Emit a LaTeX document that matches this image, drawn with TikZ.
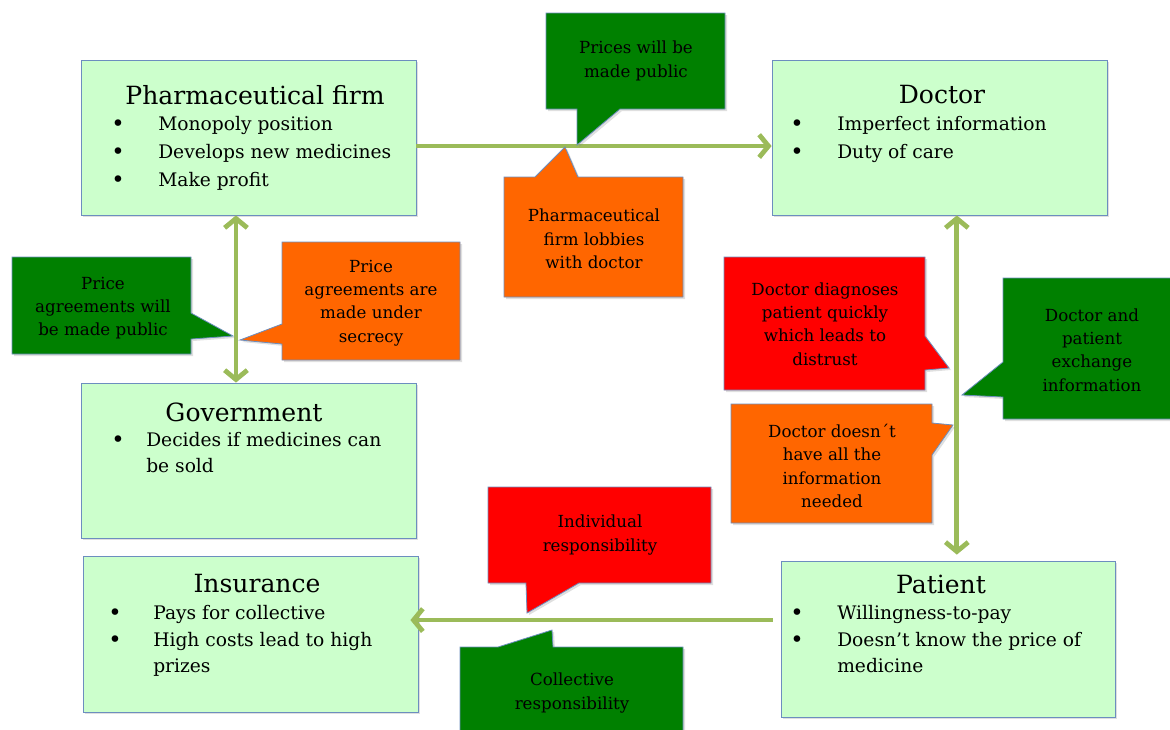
\documentclass[tikz,border=0pt]{standalone}
\usepackage{fontspec}
\setmainfont{DejaVu Serif}
\usepackage{tikz}
\usetikzlibrary{arrows.meta, fit, shadows}

\definecolor{boxfill}{RGB}{204,255,204}
\definecolor{boxline}{RGB}{108,142,191}
\definecolor{linkgreen}{RGB}{155,187,89}
\definecolor{callgreen}{RGB}{0,128,0}
\definecolor{callorange}{RGB}{255,102,0}
\definecolor{callred}{RGB}{255,0,0}

\tikzset{
  infobox/.style={draw=boxline, fill=boxfill, line width=0.6pt, inner sep=0pt,
    drop shadow={shadow xshift=1.5pt, shadow yshift=-1.5pt, opacity=0.25}},
  boxtitle/.style={font=\fontsize{18.8}{22}\selectfont, inner sep=0pt},
  boxitem/.style={font=\fontsize{14}{17}\selectfont, anchor=west, inner sep=0pt,
    text height=1.5ex, text depth=.25ex},
  dot/.style={font=\fontsize{17}{17}\selectfont, inner sep=0pt},
  balloon/.style={draw=boxline, line width=0.6pt,
    drop shadow={shadow xshift=1.5pt, shadow yshift=-1.5pt, opacity=0.25}},
  balltext/.style={font=\fontsize{12.5}{17.5}\selectfont, align=center, inner sep=0pt},
  link/.style={draw=linkgreen, line width=3.6pt,
    -{Straight Barb[length=7pt, width=17pt, line width=3.6pt]}},
  twolink/.style={link, {Straight Barb[length=7pt, width=17pt, line width=3.6pt]}-{Straight Barb[length=7pt, width=17pt, line width=3.6pt]}}
}

\begin{document}
\begin{tikzpicture}[x=0.75pt,y=0.75pt,yscale=-1,xscale=1]
\useasboundingbox (0,0) rectangle (1170,729);

% boxes
\node[infobox, fit={(81,60) (416,215)}] (pharma) {};
\node[infobox, fit={(772,60) (1107,215)}] (doctor) {};
\node[infobox, fit={(81,383) (416,538)}] (gov) {};
\node[infobox, fit={(83,556) (418,712)}] (insur) {};
\node[infobox, fit={(781,561) (1115,717)}] (patient) {};

% Pharmaceutical firm
\node[boxtitle] (pharmatitle) at (255,95) {Pharmaceutical firm};
\node[dot] at (118,126) {\textbullet};
\node[boxitem] (pharma1) at (158,126) {Monopoly position};
\node[dot] at (118,154) {\textbullet};
\node[boxitem] (pharma2) at (158,154) {Develops new medicines};
\node[dot] at (118,182) {\textbullet};
\node[boxitem] (pharma3) at (158,182) {Make profit};

% Doctor
\node[boxtitle] (doctortitle) at (942,95) {Doctor};
\node[dot] at (797,126) {\textbullet};
\node[boxitem] (doctor1) at (837,126) {Imperfect information};
\node[dot] at (797,154) {\textbullet};
\node[boxitem] (doctor2) at (837,154) {Duty of care};

% Government
\node[boxtitle] (govtitle) at (244,412) {Government};
\node[dot] at (118,442) {\textbullet};
\node[boxitem] (gov1) at (146,442) {Decides if medicines can};
\node[boxitem] (gov2) at (146,468) {be sold};

% Insurance
\node[boxtitle] (insurtitle) at (257,584) {Insurance};
\node[dot] at (115,615) {\textbullet};
\node[boxitem] (insur1) at (153,615) {Pays for collective};
\node[dot] at (115,642) {\textbullet};
\node[boxitem] (insur2) at (153,642) {High costs lead to high};
\node[boxitem] (insur3) at (153,668) {prizes};

% Patient
\node[boxtitle] (patienttitle) at (941,584) {Patient};
\node[dot] at (797,615) {\textbullet};
\node[boxitem] (patient1) at (837,615) {Willingness-to-pay};
\node[dot] at (797,642) {\textbullet};
\node[boxitem] (patient2) at (837,642) {Doesn’t know the price of};
\node[boxitem] (patient3) at (837,668) {medicine};

% connectors
\draw[link] ([yshift=6.4pt]pharma.east) -- ([yshift=6.4pt]doctor.west);
\draw[twolink] ([xshift=-9.4pt]pharma.south) -- ([xshift=-9.4pt]pharma.south |- gov.north);
\draw[twolink] ([xshift=13pt]doctor.south) -- ([xshift=13pt,yshift=-4.5pt]doctor.south |- patient.north);
\draw[link] ([xshift=-6pt,yshift=-14.2pt]patient.west) -- ([xshift=-6pt,yshift=-14.2pt]patient.west -| insur.east);

% balloons
\draw[balloon, fill=callgreen] (546,13) -- (725,13) -- (725,109) -- (620,109) -- (577,145) -- (577,109) -- (546,109) -- cycle;
\node[balltext] (pricespublic) at (636,61) {Prices will be\\made public};

\draw[balloon, fill=callorange] (504,177) -- (535,177) -- (565,147) -- (578,177) -- (683,177) -- (683,297) -- (504,297) -- cycle;
\node[balltext] (lobbies) at (594,239) {Pharmaceutical\\firm lobbies\\with doctor};

\draw[balloon, fill=callgreen] (12,257) -- (191,257) -- (191,313) -- (233,336) -- (191,339) -- (191,354) -- (12,354) -- cycle;
\node[balltext] (agreepublic) at (103,308) {Price\\agreements will\\be made public};

\draw[balloon, fill=callorange] (282,242) -- (460,242) -- (460,360) -- (282,360) -- (282,344) -- (240,340) -- (282,324) -- cycle;
\node[balltext] (secrecy) at (371,303) {Price\\agreements are\\made under\\secrecy};

\draw[balloon, fill=callred] (724,257) -- (925,257) -- (925,336) -- (949,368) -- (925,370) -- (925,390) -- (724,390) -- cycle;
\node[balltext] (distrust) at (825,324) {Doctor diagnoses\\patient quickly\\which leads to\\distrust};

\draw[balloon, fill=callgreen] (1003,278) -- (1176,278) -- (1176,419) -- (1003,419) -- (1003,397) -- (962,395) -- (1003,362) -- cycle;
\node[balltext] (exchange) at (1092,350) {Doctor and\\patient\\exchange\\information};

\draw[balloon, fill=callorange] (731,404) -- (932,404) -- (932,423) -- (953,425) -- (932,455) -- (932,523) -- (731,523) -- cycle;
\node[balltext] (notall) at (832,466) {Doctor doesn´t\\have all the\\information\\needed};

\draw[balloon, fill=callred] (488,487) -- (711,487) -- (711,583) -- (579,583) -- (527,613) -- (526,583) -- (488,583) -- cycle;
\node[balltext] (individual) at (600,535) {Individual\\responsibility};

\draw[balloon, fill=callgreen] (460,647) -- (498,647) -- (552,630) -- (553,647) -- (683,647) -- (683,735) -- (460,735) -- cycle;
\node[balltext] (collective) at (572,693) {Collective\\responsibility};
\end{tikzpicture}
\end{document}
